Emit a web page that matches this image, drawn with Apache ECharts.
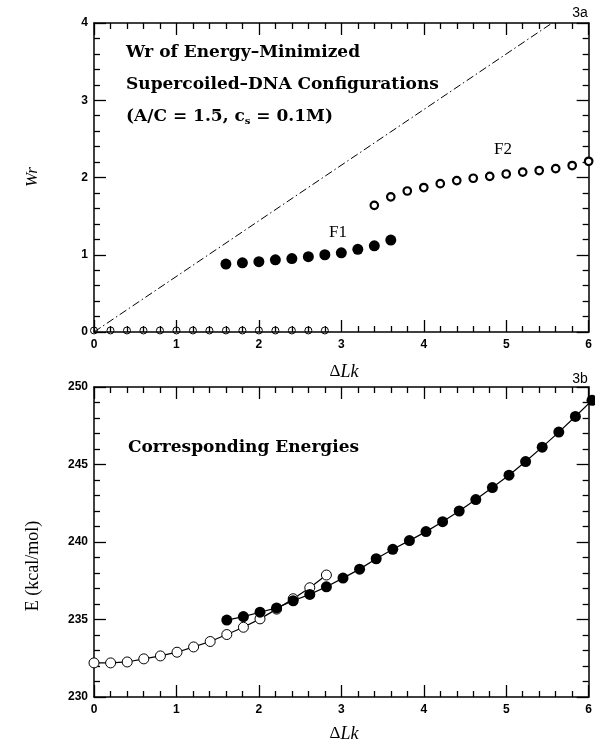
<!DOCTYPE html>
<html lang="en">
<head>
    <meta charset="UTF-8">
    <title>Wr and Energies vs dLk</title>
    <script src="https://cdn.jsdelivr.net/npm/echarts@6/dist/echarts.min.js"></script>
    <style>
        html, body { margin: 0; padding: 0; background: #fff; }
        .layer { position: absolute; left: 0; top: 0; width: 595px; height: 746px; }
    </style>
</head>
<body>
    <div class="layer" id="frame"></div>
    <div class="layer" id="chart"></div>
    <script>
        // --- panel 3a: writhe ---
        const wrZeroX = [0, 0.2, 0.4, 0.6, 0.8, 1.0, 1.2, 1.4, 1.6, 1.8, 2.0, 2.2, 2.4, 2.6, 2.8];
        const wrZeroY = [0.02, 0.02, 0.02, 0.02, 0.02, 0.02, 0.02, 0.02, 0.02, 0.02, 0.02, 0.02, 0.02, 0.02, 0.02];
        const wrF1X = [1.6, 1.8, 2.0, 2.2, 2.4, 2.6, 2.8, 3.0, 3.2, 3.4, 3.6];
        const wrF1Y = [0.88, 0.895, 0.91, 0.935, 0.95, 0.975, 1.0, 1.025, 1.07, 1.115, 1.19];
        const wrF2X = [3.4, 3.6, 3.8, 4.0, 4.2, 4.4, 4.6, 4.8, 5.0, 5.2, 5.4, 5.6, 5.8, 6.0];
        const wrF2Y = [1.64, 1.75, 1.825, 1.87, 1.92, 1.96, 1.99, 2.015, 2.045, 2.07, 2.09, 2.115, 2.155, 2.21];
        // dash-dot reference line (end points)
        const diagX = [0, 5.52];
        const diagY = [0, 4];

        // --- panel 3b: energies ---
        const eOpenX = [0, 0.2, 0.4, 0.6, 0.8, 1.0, 1.2, 1.4, 1.6, 1.8, 2.0, 2.2, 2.4, 2.6, 2.8];
        const eOpenY = [232.2, 232.2, 232.26, 232.46, 232.65, 232.89, 233.23, 233.58, 234.03, 234.5, 235.04, 235.67, 236.34, 237.05, 237.87];
        const eFillX = [1.6, 1.8, 2.0, 2.2, 2.4, 2.6, 2.8, 3.0, 3.2, 3.4, 3.6, 3.8, 4.0, 4.2, 4.4, 4.6, 4.8, 5.0, 5.2, 5.4, 5.6, 5.8, 6.0];
        const eFillY = [234.96, 235.19, 235.47, 235.75, 236.21, 236.62, 237.11, 237.67, 238.25, 238.92, 239.53, 240.09, 240.67, 241.31, 242.0, 242.74, 243.51, 244.31, 245.19, 246.12, 247.09, 248.1, 249.14];

        const xTicks = ['0', '1', '2', '3', '4', '5', '6'];

        const zip = (xs, ys) => xs.map((x, i) => [x, ys[i]]);

        const black = '#000';
        const labelFont = { fontFamily: 'Liberation Sans', fontWeight: 'bold', fontSize: 12, color: black };
        const titleFont = 'bold 17px "DejaVu Serif"';

        const grids = [
            { left: 94, top: 23, width: 498, height: 309 },
            { left: 94, top: 387, width: 498, height: 310 }
        ];

        function xAx(grid, pos, showLabel) {
            return {
                type: 'value', gridIndex: grid, position: pos,
                min: 0, max: 6, interval: 1,
                axisLine: { show: true, onZero: false, lineStyle: { color: black, width: 1.5 } },
                axisTick: { show: true, inside: true, length: 12, lineStyle: { color: black, width: 1.3 } },
                minorTick: { show: true, splitNumber: 5, length: 6, lineStyle: { color: black, width: 1.3 } },
                splitLine: { show: false },
                axisLabel: Object.assign({ show: showLabel, margin: 7, formatter: v => xTicks[Math.round(v)] }, labelFont)
            };
        }
        function yAx(grid, pos, min, max, step, showLabel) {
            return {
                type: 'value', gridIndex: grid, position: pos,
                min: min, max: max, interval: step,
                axisLine: { show: true, onZero: false, lineStyle: { color: black, width: 1.5 } },
                axisTick: { show: true, inside: true, length: 12, lineStyle: { color: black, width: 1.3 } },
                minorTick: { show: true, splitNumber: 5, length: 6, lineStyle: { color: black, width: 1.3 } },
                splitLine: { show: false },
                axisLabel: Object.assign({ show: showLabel, margin: 6 }, labelFont)
            };
        }
        // same scales, nothing drawn
        const hiddenX = g => ({ type: 'value', gridIndex: g, min: 0, max: 6, show: false });
        const hiddenY = (g, min, max) => ({ type: 'value', gridIndex: g, min: min, max: max, show: false });

        // layer 1: frames, ticks, labels and the scatter marks of 3a
        const frame = echarts.init(document.getElementById('frame'));
        frame.setOption({
            animation: false,
            grid: grids,
            xAxis: [xAx(0, 'bottom', true), xAx(0, 'top', false), xAx(1, 'bottom', true), xAx(1, 'top', false)],
            yAxis: [yAx(0, 'left', 0, 4, 1, true), yAx(0, 'right', 0, 4, 1, false),
                    yAx(1, 'left', 230, 250, 5, true), yAx(1, 'right', 230, 250, 5, false)],
            series: [
                {
                    type: 'scatter', xAxisIndex: 0, yAxisIndex: 0, data: zip(wrZeroX, wrZeroY),
                    symbol: 'circle', symbolSize: 7,
                    itemStyle: { color: 'rgba(0,0,0,0)', borderColor: black, borderWidth: 1, opacity: 1 }
                },
                {
                    type: 'scatter', xAxisIndex: 0, yAxisIndex: 0, data: zip(wrF1X, wrF1Y),
                    symbol: 'circle', symbolSize: 11, itemStyle: { color: black, opacity: 1 }
                },
                {
                    type: 'scatter', xAxisIndex: 0, yAxisIndex: 0, data: zip(wrF2X, wrF2Y),
                    symbol: 'circle', symbolSize: 7.5,
                    itemStyle: { color: '#fff', borderColor: black, borderWidth: 2.2, opacity: 1 }
                }
            ]
        });

        // layer 2: lines, curves and text
        const chart = echarts.init(document.getElementById('chart'));
        chart.setOption({
            animation: false,
            backgroundColor: 'transparent',
            grid: grids,
            xAxis: [hiddenX(0), hiddenX(1)],
            yAxis: [hiddenY(0, 0, 4), hiddenY(1, 230, 250)],
            series: [
                {
                    type: 'line', xAxisIndex: 0, yAxisIndex: 0, data: zip(diagX, diagY),
                    symbol: 'none', lineStyle: { color: black, width: 1, type: [8, 3, 1.5, 3] }
                },
                {
                    type: 'line', xAxisIndex: 1, yAxisIndex: 1, data: zip(eOpenX, eOpenY),
                    symbol: 'circle', symbolSize: 10,
                    lineStyle: { color: black, width: 1.2 },
                    itemStyle: { color: '#fff', borderColor: black, borderWidth: 1 }
                },
                {
                    type: 'line', xAxisIndex: 1, yAxisIndex: 1, data: zip(eFillX, eFillY),
                    symbol: 'circle', symbolSize: 11,
                    lineStyle: { color: black, width: 1.2 },
                    itemStyle: { color: black, borderColor: black, borderWidth: 0 }
                }
            ],
            graphic: [
                { type: 'text', x: 126, y: 53, style: { text: 'Wr of Energy\u2013Minimized', font: titleFont, fill: black, verticalAlign: 'middle' } },
                { type: 'text', x: 126, y: 85, style: { text: 'Supercoiled\u2013DNA Configurations', font: titleFont, fill: black, verticalAlign: 'middle' } },
                { type: 'text', x: 126, y: 117, style: {
                    text: '{a|(A/C = 1.5, c}{s|s}{a| = 0.1M)}', verticalAlign: 'middle',
                    rich: {
                        a: { font: titleFont, fill: black },
                        s: { font: 'bold 10px "DejaVu Serif"', fill: black, verticalAlign: 'bottom', padding: [9, 0, 0, 0] }
                    }
                } },
                { type: 'text', x: 128, y: 448, style: { text: 'Corresponding Energies', font: titleFont, fill: black, verticalAlign: 'middle' } },
                { type: 'text', x: 338, y: 233, style: { text: 'F1', font: '17px "Liberation Serif"', fill: black, align: 'center', verticalAlign: 'middle' } },
                { type: 'text', x: 503, y: 150, style: { text: 'F2', font: '17px "Liberation Serif"', fill: black, align: 'center', verticalAlign: 'middle' } },
                { type: 'text', x: 580, y: 13, style: { text: '3a', font: '14px "Liberation Sans"', fill: black, align: 'center', verticalAlign: 'middle' } },
                { type: 'text', x: 580, y: 379, style: { text: '3b', font: '14px "Liberation Sans"', fill: black, align: 'center', verticalAlign: 'middle' } },
                { type: 'text', x: 344, y: 372, style: {
                    text: '{d|\u0394}{i|Lk}', align: 'center', verticalAlign: 'middle',
                    rich: { d: { font: '17px "Liberation Serif"', fill: black }, i: { font: 'italic 18px "Liberation Serif"', fill: black } }
                } },
                { type: 'text', x: 344, y: 734, style: {
                    text: '{d|\u0394}{i|Lk}', align: 'center', verticalAlign: 'middle',
                    rich: { d: { font: '17px "Liberation Serif"', fill: black }, i: { font: 'italic 18px "Liberation Serif"', fill: black } }
                } },
                { type: 'text', x: 33, y: 177, rotation: Math.PI / 2, style: { text: 'Wr', font: 'italic 17px "Liberation Serif"', fill: black, align: 'center', verticalAlign: 'middle' } },
                { type: 'text', x: 33, y: 566, rotation: Math.PI / 2, style: { text: 'E (kcal/mol)', font: '18px "Liberation Serif"', fill: black, align: 'center', verticalAlign: 'middle' } }
            ]
        });
    </script>
</body>
</html>
